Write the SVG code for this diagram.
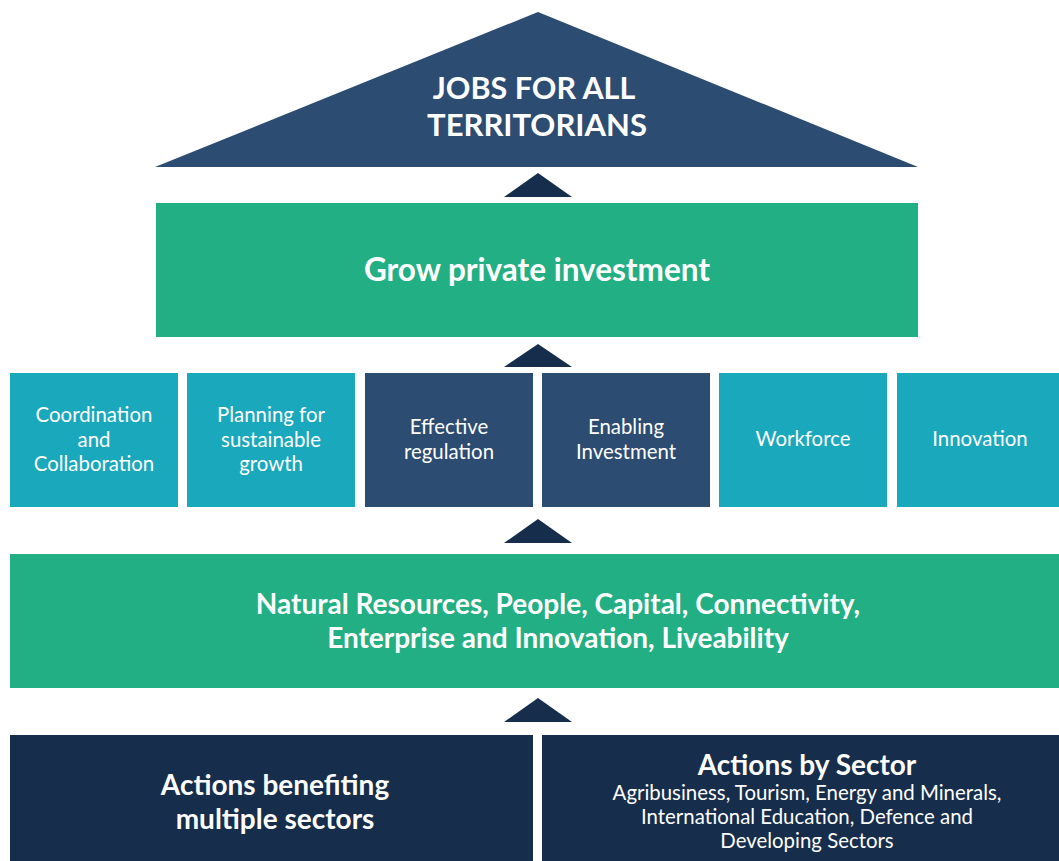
<svg xmlns="http://www.w3.org/2000/svg" width="1059" height="861" viewBox="0 0 1059 861">
<style>
text{font-family:Lato,"Open Sans","Liberation Sans",sans-serif;fill:#fff;text-anchor:middle}
.b{font-weight:700}
.teal{fill:#19A8BC}
.blue{fill:#2C4C72}
.green{fill:#23AF84}
.navy{fill:#162D4B}
.p{font-size:20.4px}
</style>
<rect width="1059" height="861" fill="#fff"/>
<g id="goal">
<polygon class="blue" points="538,12 918,167 155,167"/>
<text class="b" x="534" y="99" font-size="30.5">JOBS FOR ALL</text>
<text class="b" x="537" y="136" font-size="31">TERRITORIANS</text>
</g>
<g id="connectors">
<polygon class="navy" points="538,173 572,197 504,197"/>
<polygon class="navy" points="538,344 572,367 504,367"/>
<polygon class="navy" points="538,519 572,543 504,543"/>
<polygon class="navy" points="538,698 572,722 504,722"/>
</g>
<g id="grow">
<rect class="green" x="156" y="203" width="762" height="134"/>
<text class="b" x="537" y="281" font-size="31.5">Grow private investment</text>
</g>
<g id="p1"><rect class="teal" x="10" y="373" width="168" height="134"/>
<text class="p" x="94" y="422">Coordination</text><text class="p" x="94" y="447">and</text><text class="p" x="94" y="471">Collaboration</text></g>
<g id="p2"><rect class="teal" x="187" y="373" width="168" height="134"/>
<text class="p" x="271" y="422">Planning for</text><text class="p" x="271" y="447">sustainable</text><text class="p" x="271" y="471">growth</text></g>
<g id="p3"><rect class="blue" x="365" y="373" width="168" height="134"/>
<text class="p" x="449" y="434">Effective</text><text class="p" x="449" y="459">regulation</text></g>
<g id="p4"><rect class="blue" x="542" y="373" width="168" height="134"/>
<text class="p" x="626" y="434">Enabling</text><text class="p" x="626" y="459">Investment</text></g>
<g id="p5"><rect class="teal" x="719" y="373" width="168" height="134"/>
<text class="p" x="803" y="446">Workforce</text></g>
<g id="p6"><rect class="teal" x="897" y="373" width="168" height="134"/>
<text class="p" x="980" y="446">Innovation</text></g>
<g id="foundations">
<rect class="green" x="10" y="554" width="1049" height="134"/>
<text class="b" x="558" y="614" font-size="28">Natural Resources, People, Capital, Connectivity,</text>
<text class="b" x="558" y="648" font-size="28">Enterprise and Innovation, Liveability</text>
</g>
<g id="multi">
<rect class="navy" x="10" y="735" width="523" height="126"/>
<text class="b" x="275" y="795" font-size="28">Actions benefiting</text>
<text class="b" x="275" y="829" font-size="28">multiple sectors</text>
</g>
<g id="sector">
<rect class="navy" x="542" y="735" width="517" height="126"/>
<text class="b" x="807" y="775" font-size="28">Actions by Sector</text>
<text class="p" x="807" y="800">Agribusiness, Tourism, Energy and Minerals,</text>
<text class="p" x="807" y="824">International Education, Defence and</text>
<text class="p" x="807" y="848">Developing Sectors</text>
</g>
</svg>
